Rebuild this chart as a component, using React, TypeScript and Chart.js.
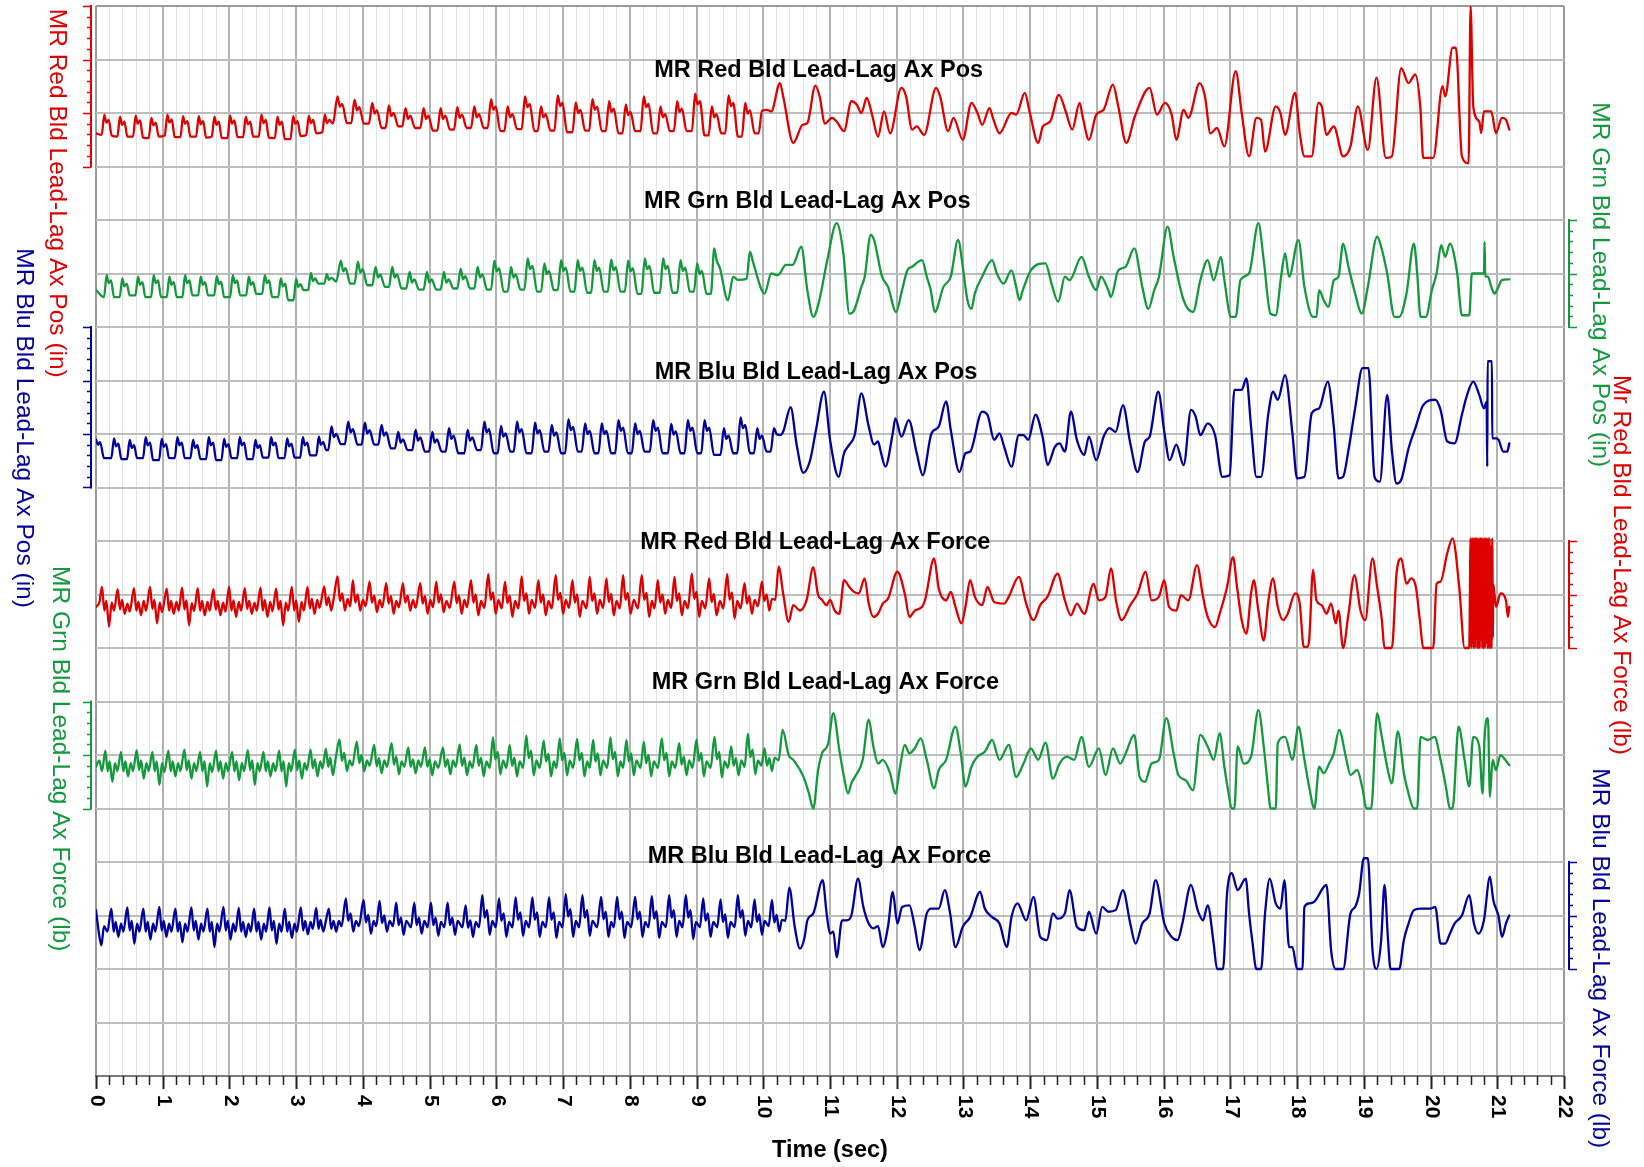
import React, { useEffect, useRef } from "react";
import { Chart, registerables } from "chart.js";
Chart.register(...registerables);

type Pt = [number, number];

const X_LABELS = ["0","1","2","3","4","5","6","7","8","9","10","11","12","13","14","15","16","17","18","19","20","21","22"];
const X_TITLE = "Time (sec)";
const SERIES_TITLES = ["MR Red Bld Lead-Lag Ax Pos","MR Grn Bld Lead-Lag Ax Pos","MR Blu Bld Lead-Lag Ax Pos","MR Red Bld Lead-Lag Ax Force","MR Grn Bld Lead-Lag Ax Force","MR Blu Bld Lead-Lag Ax Force"];
const AXIS_TITLES = ["MR Red Bld Lead-Lag Ax Pos (in)","MR Grn Bld Lead-Lag Ax Pos (in)","MR Blu Bld Lead-Lag Ax Pos (in)","Mr Red Bld Lead-Lag Ax Force (lb)","MR Grn Bld Lead-Lag Ax Force (lb)","MR Blu Bld Lead-Lag Ax Force (lb)"];

const RED_POS: Pt[] = [
[0,-.38],
[.085,-.41],[.125,-.03],[.155,-.18],[.19,-.13],[.235,-.42],
[.32,-.44],[.36,-.07],[.39,-.22],[.425,-.16],[.47,-.44],
[.555,-.44],[.595,-.05],[.625,-.2],[.66,-.14],[.705,-.46],
[.79,-.47],[.83,-.09],[.86,-.23],[.895,-.18],[.94,-.44],
[1.03,-.42],[1.07,-.03],[1.1,-.18],[1.135,-.12],[1.18,-.45],
[1.265,-.45],[1.305,-.06],[1.335,-.2],[1.37,-.15],[1.415,-.44],
[1.5,-.44],[1.54,-.06],[1.57,-.21],[1.605,-.15],[1.65,-.46],
[1.735,-.44],[1.775,-.07],[1.805,-.22],[1.84,-.16],[1.885,-.47],
[1.97,-.47],[2.01,-.05],[2.04,-.2],[2.075,-.14],[2.12,-.45],
[2.205,-.45],[2.245,-.07],[2.275,-.21],[2.31,-.16],[2.355,-.44],
[2.44,-.44],[2.48,-.03],[2.51,-.19],[2.545,-.13],[2.59,-.46],
[2.68,-.47],[2.72,-.07],[2.75,-.22],[2.785,-.16],[2.83,-.49],
[2.915,-.49],[2.955,-.06],[2.985,-.2],[3.02,-.15],[3.065,-.43],
[3.15,-.41],[3.19,-.05],[3.22,-.19],[3.255,-.13],[3.3,-.38],
[3.39,-.36],[3.43,-.03],[3.46,-.19],[3.5,-.13],[3.55,-.2],
[3.62,.31],[3.655,.12],[3.69,.17],[3.76,-.19],
[3.825,-.19],[3.875,.25],[3.91,.05],[3.945,.11],[4.015,-.2],
[4.09,-.2],[4.14,.19],[4.175,-.01],[4.21,.05],[4.28,-.28],
[4.34,-.28],[4.39,.14],[4.425,-.06],[4.46,0],[4.53,-.25],
[4.59,-.25],[4.64,.09],[4.675,-.11],[4.71,-.05],[4.78,-.28],
[4.86,-.28],[4.91,.09],[4.945,-.11],[4.98,-.05],[5.05,-.33],
[5.115,-.33],[5.165,.09],[5.2,-.11],[5.235,-.05],[5.305,-.31],
[5.365,-.31],[5.415,.11],[5.45,-.09],[5.485,-.03],[5.555,-.28],
[5.62,-.28],[5.67,.125],[5.705,-.08],[5.74,-.02],[5.81,-.28],
[5.87,-.28],[5.92,.26],[5.955,.06],[5.99,.12],[6.06,-.34],
[6.12,-.34],[6.17,.125],[6.205,-.08],[6.24,-.02],[6.31,-.3],
[6.38,-.3],[6.43,.31],[6.465,.11],[6.5,.17],[6.57,-.34],
[6.62,-.34],[6.67,.125],[6.705,-.08],[6.74,-.02],[6.81,-.33],
[6.87,-.33],[6.92,.33],[6.955,.13],[6.99,.19],[7.06,-.36],
[7.14,-.36],[7.19,.2],[7.225,0],[7.26,.06],[7.33,-.33],
[7.39,-.33],[7.44,.26],[7.475,.06],[7.51,.12],[7.58,-.34],
[7.64,-.34],[7.69,.22],[7.725,.02],[7.76,.08],[7.83,-.38],
[7.89,-.38],[7.94,.16],[7.975,-.04],[8.01,.02],[8.08,-.34],
[8.16,-.34],[8.21,.31],[8.245,.11],[8.28,.17],[8.35,-.38],
[8.41,-.38],[8.46,.125],[8.495,-.08],[8.53,-.02],[8.6,-.34],
[8.66,-.34],[8.71,.22],[8.745,.02],[8.78,.08],[8.85,-.34],
[8.93,-.34],[8.98,.36],[9.015,.16],[9.05,.22],[9.12,-.42],
[9.18,-.42],[9.23,.125],[9.265,-.08],[9.3,-.02],[9.37,-.38],
[9.43,-.38],[9.48,.33],[9.515,.13],[9.55,.19],[9.62,-.44],
[9.68,-.44],[9.73,.19],[9.765,-.01],[9.8,.05],[9.87,-.38],
[9.93,-.38],[9.98,.04],[10.05,.06],[10.12,.03],[10.25,.56],[10.3,.3],[10.45,-.56],[10.59,-.22],[10.66,-.19],[10.78,.51],[10.85,.28],[10.92,-.2],[11.03,-.09],[11.1,-.16],[11.21,-.34],
[11.32,.22],[11.4,.16],[11.47,0],[11.55,.28],[11.63,-.03],[11.72,-.44],[11.81,.03],[11.9,-.38],[12.07,.47],[12.14,.31],[12.23,-.31],[12.3,-.25],[12.41,-.41],[12.59,.47],[12.65,.31],[12.77,-.34],[12.85,-.09],[12.99,-.5],[13.12,.19],[13.21,0],[13.28,-.22],[13.39,.09],[13.45,-.125],[13.54,-.38],[13.72,0],[13.79,-.03],[13.92,.375],[13.99,.03],[14.12,-.56],[14.19,-.25],[14.3,-.16],[14.43,.34],[14.54,0],[14.63,-.31],[14.74,.19],[14.79,-.09],[14.88,-.5],[14.99,-.03],[15.1,.06],[15.24,.53],[15.32,.125],[15.44,-.56],[15.57,-.06],[15.79,.47],[15.9,-.03],[16.02,.19],[16.12,-.03],[16.19,-.5],[16.3,.06],[16.37,-.09],[16.54,.56],[16.62,.31],[16.7,-.38],[16.8,-.28],[16.91,-.625],[17.08,.78],[17.17,0],[17.28,-.81],[17.39,-.09],[17.46,-.125],[17.52,-.72],[17.68,.125],[17.75,0],[17.82,-.41],[17.97,.375],[18.04,-.375],[18.11,-.81],[18.22,-.81],[18.32,.19],[18.37,.125],[18.44,-.41],[18.55,-.25],[18.69,-.81],[18.8,-.625],[18.91,.125],[19.06,-.69],[19.19,.66],[19.33,-.84],[19.42,-.81],[19.56,.84],[19.67,.56],[19.77,.72],[19.85,.06],[19.89,-.84],[20.04,-.84],[20.18,.5],[20.22,.31],[20.33,1.22],[20.38,1.22],[20.47,-.81],[20.57,-.94],[20.6,2],[20.64,.125],[20.73,-.16],[20.76,-.375],[20.8,.03],[20.91,.03],[20.98,-.375],[21.07,-.09],[21.13,-.125],[21.18,-.31]
];

const GRN_POS: Pt[] = [
[0,-.31],
[.12,-.44],[.16,-.03],[.19,-.18],[.225,-.13],[.27,-.44],
[.355,-.44],[.395,-.09],[.425,-.24],[.46,-.19],[.505,-.41],
[.59,-.41],[.63,-.06],[.66,-.21],[.695,-.16],[.74,-.44],
[.825,-.44],[.865,-.03],[.895,-.18],[.93,-.13],[.975,-.44],
[1.06,-.44],[1.1,-.06],[1.13,-.21],[1.165,-.16],[1.21,-.44],
[1.295,-.44],[1.335,-.03],[1.365,-.18],[1.4,-.13],[1.445,-.41],
[1.53,-.41],[1.57,-.06],[1.6,-.21],[1.635,-.16],[1.68,-.41],
[1.77,-.41],[1.81,-.05],[1.84,-.2],[1.875,-.15],[1.92,-.44],
[2.01,-.44],[2.05,-.03],[2.08,-.18],[2.115,-.13],[2.16,-.41],
[2.25,-.41],[2.29,-.06],[2.32,-.21],[2.355,-.16],[2.4,-.38],
[2.49,-.38],[2.53,-.03],[2.56,-.18],[2.595,-.13],[2.64,-.44],
[2.73,-.44],[2.77,-.09],[2.8,-.24],[2.835,-.19],[2.88,-.5],
[2.96,-.5],[3.0,-.1],[3.03,-.25],[3.065,-.2],[3.11,-.31],
[3.18,-.31],[3.22,.01],[3.25,-.14],[3.285,-.09],[3.33,-.19],
[3.42,-.19],[3.46,-.01],[3.49,-.12],[3.53,-.08],[3.6,-.15],
[3.67,.24],[3.705,.04],[3.74,.1],[3.81,-.19],
[3.875,-.19],[3.925,.22],[3.96,.02],[3.995,.08],[4.065,-.22],
[4.14,-.22],[4.19,.125],[4.225,-.075],[4.26,-.015],[4.33,-.25],
[4.39,-.25],[4.44,.125],[4.475,-.075],[4.51,-.015],[4.58,-.28],
[4.65,-.28],[4.7,.03],[4.735,-.17],[4.77,-.11],[4.84,-.3],
[4.91,-.3],[4.96,.03],[4.995,-.17],[5.03,-.11],[5.1,-.3],
[5.165,-.3],[5.215,.03],[5.25,-.17],[5.285,-.11],[5.355,-.28],
[5.415,-.28],[5.465,.09],[5.5,-.11],[5.535,-.05],[5.605,-.28],
[5.67,-.28],[5.72,.125],[5.755,-.075],[5.79,-.015],[5.86,-.3],
[5.92,-.3],[5.97,.24],[6.005,.04],[6.04,.1],[6.11,-.34],
[6.17,-.34],[6.22,.125],[6.255,-.075],[6.29,-.015],[6.36,-.3],
[6.42,-.3],[6.47,.28],[6.505,.08],[6.54,.14],[6.61,-.34],
[6.67,-.34],[6.72,.19],[6.755,-.01],[6.79,.05],[6.86,-.31],
[6.92,-.31],[6.97,.25],[7.005,.05],[7.04,.11],[7.11,-.34],
[7.17,-.34],[7.22,.25],[7.255,.05],[7.29,.11],[7.36,-.36],
[7.42,-.36],[7.47,.25],[7.505,.05],[7.54,.11],[7.61,-.34],
[7.67,-.34],[7.72,.26],[7.755,.06],[7.79,.12],[7.86,-.34],
[7.925,-.34],[7.975,.24],[8.01,.04],[8.045,.1],[8.115,-.38],
[8.175,-.38],[8.225,.28],[8.26,.08],[8.295,.14],[8.365,-.36],
[8.45,-.36],[8.5,.28],[8.535,.08],[8.57,.14],[8.64,-.36],
[8.71,-.36],[8.76,.25],[8.795,.05],[8.83,.11],[8.9,-.34],
[8.96,-.34],[9.01,.19],[9.045,-.01],[9.08,.05],[9.15,-.38],
[9.215,-.38],[9.265,.47],[9.3,.25],[9.35,.1],[9.47,-.5],[9.55,-.06],[9.62,-.12],[9.75,-.1],[9.8,.41],[9.85,.2],[10.02,-.375],[10.12,0],[10.22,-.03],[10.34,.16],[10.44,.16],[10.57,.5],[10.66,-.31],[10.75,-.81],[10.84,-.5],[10.95,.19],[11.1,.94],
[11.2,.38],[11.29,-.75],[11.36,-.69],[11.47,-.25],[11.52,-.06],[11.61,.72],[11.66,.63],[11.78,-.06],[11.87,-.25],[11.99,-.72],[12.08,-.31],[12.16,.06],[12.23,.125],[12.38,.25],[12.45,-.06],[12.51,-.31],[12.57,-.72],[12.7,-.25],[12.81,-.06],[12.92,.63],[12.99,.125],[13.06,-.5],[13.12,-.66],[13.17,-.375],[13.28,-.06],[13.43,.25],[13.5,0],[13.6,-.19],[13.72,.06],[13.79,-.25],[13.84,-.5],[13.89,-.31],[14.01,.06],[14.23,.19],[14.32,-.19],[14.42,-.53],[14.52,-.06],[14.59,-.125],[14.77,.31],[14.88,-.06],[14.99,-.31],[15.06,-.06],[15.17,-.31],[15.21,-.44],[15.32,.06],[15.43,.125],[15.56,.47],[15.68,-.25],[15.77,-.66],[15.86,-.31],[15.93,-.06],[16.06,.875],[16.15,.31],[16.3,-.5],[16.44,-.72],[16.55,-.125],[16.66,.25],[16.75,-.125],[16.86,.31],[16.91,-.125],[17.01,-.81],[17.08,-.81],[17.15,-.125],[17.28,0],[17.42,.94],[17.5,.25],[17.6,-.75],[17.68,-.78],[17.76,-.06],[17.82,.375],[17.88,-.06],[18.02,.625],[18.11,-.25],[18.24,-.81],[18.29,-.81],[18.33,-.31],[18.4,-.5],[18.47,-.625],[18.55,-.125],[18.62,-.06],[18.69,.56],[18.77,.125],[18.87,-.375],[18.97,-.75],[19.06,-.25],[19.2,.69],[19.26,.5],[19.35,0],[19.46,-.81],[19.53,-.81],[19.64,-.375],[19.75,.56],[19.8,0],[19.85,-.81],[19.93,-.81],[20.02,-.31],[20.09,0],[20.16,.53],[20.22,.31],[20.29,.56],[20.4,0],[20.47,-.78],[20.58,-.78],[20.62,0],[20.8,0],[20.81,.59],[20.82,-.06],[20.86,-.06],[20.91,-.25],[20.96,-.375],[21.0,-.3],[21.07,-.125],[21.18,-.11]
];

const BLU_POS: Pt[] = [
[0,-.1],[.03,-.2],[.06,-.15],[.12,-.45],
[.23,-.45],[.27,-.08],[.3,-.23],[.335,-.18],[.38,-.47],
[.465,-.47],[.505,-.11],[.535,-.26],[.57,-.21],[.615,-.45],
[.705,-.45],[.745,-.06],[.775,-.21],[.81,-.16],[.855,-.49],
[.945,-.49],[.985,-.09],[1.015,-.24],[1.05,-.19],[1.095,-.45],
[1.18,-.45],[1.22,-.06],[1.25,-.21],[1.285,-.16],[1.33,-.45],
[1.415,-.45],[1.455,-.11],[1.485,-.26],[1.52,-.21],[1.565,-.47],
[1.65,-.47],[1.69,-.06],[1.72,-.21],[1.755,-.16],[1.8,-.49],
[1.88,-.49],[1.92,-.09],[1.95,-.24],[1.985,-.19],[2.03,-.45],
[2.115,-.45],[2.155,-.06],[2.185,-.21],[2.22,-.16],[2.265,-.47],
[2.35,-.47],[2.39,-.11],[2.42,-.26],[2.455,-.21],[2.5,-.44],
[2.585,-.44],[2.625,-.06],[2.655,-.21],[2.69,-.16],[2.735,-.45],
[2.825,-.45],[2.865,-.08],[2.895,-.23],[2.93,-.18],[2.975,-.44],
[3.06,-.44],[3.1,-.06],[3.13,-.21],[3.165,-.16],[3.21,-.4],
[3.3,-.4],[3.34,-.05],[3.37,-.2],[3.405,-.15],[3.45,-.3],
[3.48,-.3],[3.53,.14],[3.565,-.06],[3.6,0],[3.67,-.19],
[3.73,-.19],[3.78,.23],[3.815,.03],[3.85,.09],[3.92,-.2],
[3.98,-.2],[4.03,.21],[4.065,.01],[4.1,.07],[4.17,-.2],
[4.23,-.2],[4.28,.17],[4.315,-.03],[4.35,.03],[4.42,-.27],
[4.48,-.27],[4.53,.04],[4.565,-.16],[4.6,-.1],[4.67,-.3],
[4.74,-.3],[4.79,.075],[4.825,-.125],[4.86,-.065],[4.93,-.33],
[4.99,-.33],[5.04,.04],[5.075,-.16],[5.11,-.1],[5.18,-.33],
[5.24,-.33],[5.29,.11],[5.325,-.09],[5.36,-.03],[5.43,-.36],
[5.52,-.36],[5.57,.075],[5.605,-.125],[5.64,-.065],[5.71,-.3],
[5.77,-.3],[5.82,.23],[5.855,.03],[5.89,.09],[5.96,-.36],
[6.02,-.36],[6.07,.15],[6.105,-.05],[6.14,.01],[6.21,-.33],
[6.26,-.33],[6.31,.23],[6.345,.03],[6.38,.09],[6.45,-.36],
[6.53,-.36],[6.58,.21],[6.615,.01],[6.65,.07],[6.72,-.33],
[6.78,-.33],[6.83,.17],[6.865,-.03],[6.9,.03],[6.97,-.36],
[7.03,-.36],[7.08,.275],[7.115,.075],[7.15,.135],[7.22,-.33],
[7.28,-.33],[7.33,.2],[7.365,0],[7.4,.06],[7.47,-.36],
[7.53,-.36],[7.58,.2],[7.615,0],[7.65,.06],[7.72,-.36],
[7.78,-.36],[7.83,.26],[7.865,.06],[7.9,.12],[7.97,-.36],
[8.03,-.36],[8.08,.2],[8.115,0],[8.15,.06],[8.22,-.33],
[8.3,-.33],[8.35,.26],[8.385,.06],[8.42,.12],[8.49,-.36],
[8.57,-.36],[8.62,.19],[8.655,-.01],[8.69,.05],[8.76,-.36],
[8.82,-.36],[8.87,.26],[8.905,.06],[8.94,.12],[9.01,-.36],
[9.07,-.36],[9.12,.26],[9.155,.06],[9.19,.12],[9.26,-.39],
[9.36,-.39],[9.41,.11],[9.445,-.09],[9.48,-.03],[9.55,-.36],
[9.61,-.36],[9.66,.31],[9.695,.11],[9.73,.17],[9.8,-.36],
[9.86,-.36],[9.91,.11],[9.945,-.09],[9.98,-.03],[10.05,-.33],
[10.11,-.33],[10.16,.11],[10.2,0],[10.26,-.02],[10.3,.05],
[10.41,.5],[10.5,-.2],[10.6,-.725],[10.7,-.5],[10.79,.075],[10.91,.79],[11.0,-.1],[11.13,-.8],
[11.21,-.36],[11.29,-.2],[11.37,-.02],[11.47,.76],[11.58,.14],[11.66,-.2],[11.72,-.14],[11.76,-.33],[11.83,-.61],[11.94,.01],[11.98,.29],[12.07,-.05],[12.18,.26],[12.3,-.36],[12.39,-.77],[12.52,.01],[12.63,.14],[12.74,.61],[12.81,.075],[12.94,-.71],[13.03,-.36],[13.1,-.33],[13.28,.42],[13.36,.36],[13.46,-.11],[13.54,.01],[13.61,-.24],[13.72,-.61],[13.83,-.02],[13.9,-.02],[13.97,-.11],[14.08,.36],[14.19,-.08],[14.26,-.58],[14.37,-.24],[14.44,-.175],[14.52,-.33],[14.61,.42],[14.7,-.11],[14.81,-.39],[14.88,-.05],[14.99,-.49],[15.1,-.05],[15.19,.11],[15.28,.04],[15.39,.54],[15.5,-.175],[15.61,-.71],[15.72,-.14],[15.79,-.05],[15.92,.79],[16.01,.04],[16.09,-.49],[16.19,-.2],[16.3,-.58],[16.41,.45],[16.48,.325],[16.55,-.02],[16.66,.2],[16.77,-.02],[16.88,-.8],[16.99,-.77],[17.06,.825],[17.17,.825],[17.24,1.04],[17.31,.14],[17.39,-.8],[17.46,-.8],[17.57,.39],[17.64,.79],[17.71,.64],[17.82,1.1],[17.93,.01],[18.0,-.83],[18.11,-.8],[18.22,.39],[18.33,.48],[18.46,.98],[18.55,.14],[18.62,-.83],[18.69,-.8],[18.77,-.3],[18.87,.48],[18.98,1.23],[19.07,1.23],[19.16,-.8],[19.24,-.89],[19.35,.73],[19.42,-.3],[19.49,-.925],[19.56,-.86],[19.67,-.27],[19.78,.14],[19.89,.54],[20.07,.64],[20.15,.45],[20.25,-.14],[20.36,-.175],[20.47,.36],[20.54,.7],[20.64,.98],[20.73,.73],[20.8,.48],[20.84,.6],[20.85,-.61],[20.855,1.36],[20.92,1.36],[20.925,-.08],[20.98,-.08],[21.02,-.11],[21.09,-.33],[21.15,-.33],[21.18,-.175]
];

const RED_FRC: Pt[] = [
[0,-.23],[.05,-.15],
[.09,.14],[.125,-.3],[.155,-.12],[.195,-.6],[.235,-.15],[.27,-.3],
[.325,.1],[.36,-.28],[.39,-.1],[.43,-.36],[.47,-.17],[.505,-.32],
[.57,.12],[.605,-.3],[.635,-.14],[.675,-.39],[.715,-.12],[.75,-.3],
[.81,.14],[.845,-.27],[.875,-.1],[.915,-.54],[.955,-.15],[.99,-.33],
[1.06,.11],[1.095,-.3],[1.125,-.12],[1.165,-.36],[1.205,-.14],[1.24,-.3],
[1.29,.13],[1.325,-.28],[1.355,-.11],[1.395,-.575],[1.435,-.16],[1.47,-.31],
[1.525,.12],[1.56,-.3],[1.59,-.12],[1.63,-.39],[1.67,-.14],[1.705,-.3],
[1.76,.1],[1.795,-.28],[1.825,-.12],[1.865,-.39],[1.905,-.15],[1.94,-.32],
[1.995,.14],[2.03,-.3],[2.06,-.11],[2.1,-.42],[2.14,-.14],[2.175,-.3],
[2.23,.12],[2.265,-.27],[2.295,-.12],[2.335,-.36],[2.375,-.15],[2.41,-.3],
[2.465,.13],[2.5,-.3],[2.53,-.1],[2.57,-.42],[2.61,-.14],[2.645,-.31],
[2.7,.11],[2.735,-.28],[2.765,-.12],[2.805,-.575],[2.845,-.15],[2.88,-.3],
[2.935,.14],[2.97,-.3],[3.0,-.11],[3.04,-.51],[3.08,-.14],[3.115,-.3],
[3.17,.14],[3.205,-.26],[3.235,-.08],[3.275,-.36],[3.315,-.1],[3.35,-.25],
[3.42,.15],[3.455,-.2],[3.485,-.05],[3.525,-.3],[3.565,-.05],
[3.62,.34],[3.655,-.12],[3.69,.02],[3.73,-.3],[3.77,-.08],[3.81,-.22],
[3.85,.27],[3.885,-.15],[3.92,0],[3.96,-.3],[4.0,-.1],[4.04,-.22],
[4.1,.24],[4.135,-.15],[4.17,-.02],[4.21,-.33],[4.25,-.1],[4.29,-.24],
[4.35,.21],[4.385,-.17],[4.42,-.03],[4.46,-.36],[4.5,-.12],[4.54,-.24],
[4.6,.21],[4.635,-.15],[4.67,-.02],[4.71,-.3],[4.75,-.1],[4.79,-.25],
[4.86,.21],[4.895,-.17],[4.93,-.03],[4.97,-.36],[5.01,-.1],[5.05,-.24],
[5.1,.24],[5.135,-.15],[5.17,0],[5.21,-.33],[5.25,-.12],[5.3,-.25],
[5.37,.24],[5.405,-.16],[5.44,-.02],[5.48,-.36],[5.52,-.1],[5.56,-.24],
[5.62,.27],[5.655,-.15],[5.69,0],[5.73,-.39],[5.77,-.12],[5.82,-.25],
[5.88,.38],[5.915,-.1],[5.95,.04],[5.99,-.36],[6.03,-.1],[6.08,-.26],
[6.13,.24],[6.165,-.16],[6.2,-.02],[6.24,-.42],[6.28,-.12],[6.33,-.26],
[6.38,.34],[6.415,-.12],[6.45,.02],[6.49,-.36],[6.53,-.1],[6.58,-.25],
[6.63,.27],[6.665,-.15],[6.7,0],[6.74,-.39],[6.78,-.12],[6.83,-.26],
[6.89,.36],[6.925,-.1],[6.96,.03],[7.0,-.36],[7.04,-.1],[7.09,-.25],
[7.14,.27],[7.175,-.15],[7.21,0],[7.25,-.42],[7.29,-.12],[7.35,-.26],
[7.4,.33],[7.435,-.12],[7.47,.02],[7.51,-.36],[7.55,-.1],[7.6,-.25],
[7.65,.3],[7.685,-.14],[7.72,.01],[7.76,-.39],[7.8,-.12],[7.85,-.26],
[7.9,.36],[7.935,-.1],[7.97,.03],[8.01,-.36],[8.06,-.1],[8.12,-.26],
[8.18,.36],[8.215,-.1],[8.25,.03],[8.29,-.42],[8.33,-.12],[8.37,-.26],
[8.42,.27],[8.455,-.15],[8.49,0],[8.53,-.36],[8.57,-.1],[8.62,-.25],
[8.67,.33],[8.705,-.12],[8.74,.02],[8.78,-.39],[8.82,-.12],[8.87,-.26],
[8.93,.39],[8.965,-.08],[9.0,.05],[9.04,-.42],[9.08,-.12],[9.13,-.26],
[9.19,.3],[9.225,-.14],[9.26,.01],[9.3,-.39],[9.35,-.12],[9.4,-.26],
[9.46,.38],[9.495,-.1],[9.53,.04],[9.57,-.45],[9.61,-.12],[9.66,-.26],
[9.72,.21],[9.755,-.17],[9.79,-.03],[9.83,-.36],[9.87,-.1],[9.92,-.22],
[9.98,.24],[10.015,-.12],[10.05,0],[10.09,-.3],[10.13,-.08],[10.18,-.1],
[10.23,.52],[10.3,0],[10.38,-.51],[10.45,-.2],[10.55,-.3],[10.65,-.1],[10.75,.51],[10.82,0],[10.88,-.1],[10.95,-.2],[11.0,-.1],[11.07,-.3],[11.14,-.36],
[11.21,.27],[11.29,.14],[11.36,.05],[11.43,.02],[11.52,.3],[11.58,-.17],[11.65,-.42],[11.72,-.36],[11.79,-.17],[11.87,-.075],[12.01,.425],[12.12,.02],[12.19,-.42],[12.27,-.3],[12.38,-.23],[12.43,-.075],[12.56,.675],[12.63,.11],[12.74,-.11],[12.81,.05],[12.88,-.23],[12.97,-.54],[13.03,-.23],[13.1,.27],[13.17,-.04],[13.28,-.2],[13.36,.14],[13.46,-.14],[13.61,-.17],[13.68,-.04],[13.83,.33],[13.94,-.17],[14.05,-.48],[14.15,-.2],[14.26,-.04],[14.41,.39],[14.52,-.11],[14.61,-.39],[14.7,-.17],[14.81,-.36],[14.95,.2],[15.03,-.11],[15.13,-.04],[15.21,.49],[15.29,-.14],[15.37,-.48],[15.5,-.2],[15.61,.02],[15.73,.425],[15.82,-.11],[15.93,-.04],[16.01,.27],[16.08,-.23],[16.19,-.3],[16.26,-.01],[16.37,-.11],[16.5,.55],[16.59,-.04],[16.66,-.42],[16.77,-.61],[16.84,-.36],[16.95,.14],[17.04,.7],[17.1,.14],[17.17,-.48],[17.24,-.73],[17.31,.02],[17.35,.27],[17.42,-.3],[17.5,-.86],[17.57,-.11],[17.64,.3],[17.71,-.23],[17.79,-.48],[17.86,-.36],[17.97,.02],[18.04,-.17],[18.1,-.98],[18.15,-.98],[18.18,-.86],[18.24,.46],[18.29,-.11],[18.37,-.2],[18.44,-.36],[18.51,-.17],[18.58,-.54],[18.62,-.3],[18.69,-1],[18.77,-.36],[18.86,.36],[18.95,-.3],[19.02,-.48],[19.13,.675],[19.2,.14],[19.27,-.48],[19.31,-1],[19.42,-1],[19.49,.39],[19.56,.675],[19.64,.2],[19.71,.3],[19.78,.14],[19.84,-.48],[19.89,-1],[20.04,-1],[20.09,.2],[20.15,.24],[20.25,.77],[20.33,1.05],[20.43,.14],[20.51,-1],[20.58,-1],
[20.6,1.05],[20.61,-1],[20.62,1.05],[20.628,-.9],[20.637,1.05],[20.645,-1],[20.655,1.05],[20.665,-1],[20.672,1.05],[20.68,-.8],[20.69,1.05],[20.7,-1],[20.71,1.05],[20.72,-1],[20.728,1.05],[20.738,-1],[20.748,1.05],[20.756,-.85],[20.765,1.05],[20.775,-1],[20.785,1.05],[20.795,-1],[20.805,1.05],[20.815,-1],[20.825,1.05],[20.835,-.9],[20.845,1.05],[20.855,-1],[20.865,1.05],[20.875,-1],[20.885,1.05],[20.895,-1],[20.905,.9],[20.915,-1],[20.925,1.05],[20.935,-.8],[20.94,.2],
[20.98,-.23],[21.05,.02],[21.13,-.11],[21.16,-.42],[21.18,-.23]
];

const GRN_FRC: Pt[] = [
[0,-.22],[.05,-.1],[.09,-.3],
[.14,.08],[.175,-.3],[.205,-.12],[.245,-.5],[.285,-.15],[.32,-.3],
[.375,.06],[.41,-.3],[.44,-.12],[.48,-.4],[.52,-.15],[.555,-.3],
[.61,.09],[.645,-.28],[.675,-.1],[.715,-.44],[.755,-.15],[.79,-.3],
[.845,.06],[.88,-.3],[.91,-.12],[.95,-.56],[.99,-.15],[1.025,-.32],
[1.085,.08],[1.12,-.3],[1.15,-.12],[1.19,-.4],[1.23,-.15],[1.265,-.3],
[1.325,.1],[1.36,-.28],[1.39,-.1],[1.43,-.44],[1.47,-.15],[1.505,-.3],
[1.56,.06],[1.595,-.3],[1.625,-.12],[1.665,-.59],[1.705,-.15],[1.74,-.32],
[1.8,.08],[1.835,-.3],[1.865,-.12],[1.905,-.44],[1.945,-.15],[1.98,-.3],
[2.04,.06],[2.075,-.3],[2.105,-.12],[2.145,-.47],[2.185,-.15],[2.22,-.3],
[2.275,.09],[2.31,-.28],[2.34,-.1],[2.38,-.56],[2.42,-.15],[2.455,-.3],
[2.51,.06],[2.545,-.3],[2.575,-.12],[2.615,-.4],[2.655,-.15],[2.69,-.3],
[2.745,.08],[2.78,-.3],[2.81,-.12],[2.85,-.59],[2.89,-.15],[2.925,-.3],
[2.98,.1],[3.015,-.28],[3.045,-.1],[3.085,-.44],[3.125,-.15],[3.16,-.28],
[3.215,.1],[3.25,-.25],[3.28,-.08],[3.32,-.4],[3.36,-.12],[3.395,-.25],
[3.445,.12],[3.48,-.22],[3.51,-.05],[3.55,-.375],[3.59,-.08],
[3.65,.29],[3.685,-.11],[3.72,.04],[3.76,-.3],[3.8,-.1],[3.84,-.2],
[3.91,.25],[3.945,-.15],[3.98,0],[4.02,-.3],[4.06,-.1],[4.1,-.2],
[4.17,.19],[4.205,-.21],[4.24,-.06],[4.28,-.34],[4.32,-.1],[4.36,-.22],
[4.43,.22],[4.465,-.18],[4.5,-.03],[4.54,-.36],[4.58,-.12],[4.62,-.22],
[4.68,.14],[4.715,-.22],[4.75,-.08],[4.79,-.34],[4.83,-.1],[4.87,-.22],
[4.93,.14],[4.965,-.22],[5.0,-.08],[5.04,-.38],[5.08,-.12],[5.13,-.24],
[5.2,.14],[5.235,-.22],[5.27,-.08],[5.31,-.36],[5.35,-.1],[5.39,-.22],
[5.45,.2],[5.485,-.2],[5.52,-.05],[5.56,-.38],[5.6,-.12],[5.64,-.24],
[5.7,.19],[5.735,-.2],[5.77,-.05],[5.81,-.4],[5.85,-.12],[5.9,-.24],
[5.95,.33],[5.985,-.08],[6.02,.06],[6.06,-.36],[6.1,-.1],[6.15,-.24],
[6.2,.19],[6.235,-.2],[6.27,-.05],[6.31,-.4],[6.35,-.12],[6.4,-.24],
[6.45,.36],[6.485,-.06],[6.52,.08],[6.56,-.38],[6.6,-.1],[6.65,-.24],
[6.71,.27],[6.745,-.12],[6.78,.02],[6.82,-.4],[6.86,-.12],[6.9,-.24],
[6.95,.31],[6.985,-.1],[7.02,.04],[7.06,-.38],[7.1,-.1],[7.15,-.24],
[7.21,.3],[7.245,-.1],[7.28,.04],[7.32,-.4],[7.36,-.12],[7.4,-.24],
[7.45,.28],[7.485,-.12],[7.52,.03],[7.56,-.38],[7.6,-.1],[7.66,-.24],
[7.71,.33],[7.745,-.08],[7.78,.06],[7.82,-.4],[7.86,-.12],[7.9,-.24],
[7.95,.28],[7.985,-.12],[8.02,.03],[8.06,-.38],[8.1,-.1],[8.16,-.24],
[8.21,.25],[8.245,-.15],[8.28,0],[8.32,-.4],[8.36,-.12],[8.42,-.24],
[8.48,.31],[8.515,-.1],[8.55,.04],[8.59,-.4],[8.63,-.12],[8.68,-.24],
[8.74,.22],[8.775,-.18],[8.81,-.03],[8.85,-.38],[8.89,-.1],[8.94,-.24],
[9.0,.29],[9.035,-.11],[9.07,.04],[9.11,-.4],[9.15,-.12],[9.21,-.24],
[9.27,.34],[9.305,-.08],[9.34,.06],[9.38,-.42],[9.42,-.12],[9.47,-.24],
[9.52,.16],[9.555,-.2],[9.59,-.06],[9.63,-.38],[9.67,-.1],[9.72,-.22],
[9.77,.4],[9.805,-.04],[9.84,.1],[9.88,-.36],[9.92,-.1],[9.97,-.2],
[10.02,.125],[10.055,-.2],[10.09,-.06],[10.13,-.3],[10.17,-.05],[10.23,-.1],
[10.29,.47],[10.38,0],[10.45,-.09],[10.6,-.4],[10.68,-.7],[10.75,-1],[10.82,-.3],[10.88,.03],[10.97,.2],[11.05,.78],
[11.14,.09],[11.21,-.41],[11.27,-.72],[11.32,-.53],[11.39,-.375],[11.49,-.09],[11.58,.66],[11.65,.16],[11.72,-.16],[11.79,-.09],[11.9,-.34],[11.98,-.72],[12.05,-.22],[12.12,.19],[12.19,.03],[12.27,.125],[12.36,.31],[12.45,-.09],[12.56,-.625],[12.63,-.28],[12.74,-.09],[12.88,.53],[12.96,.03],[13.03,-.59],[13.12,-.22],[13.21,-.03],[13.32,.06],[13.43,.28],[13.54,-.09],[13.68,.19],[13.79,-.41],[13.9,-.16],[14.01,.125],[14.12,-.09],[14.23,.23],[14.34,-.44],[14.44,-.16],[14.55,-.03],[14.66,-.09],[14.77,.34],[14.88,-.22],[15.03,.125],[15.13,-.375],[15.24,.125],[15.35,-.16],[15.43,.03],[15.56,.375],[15.64,-.41],[15.72,-.5],[15.82,-.16],[15.93,-.09],[16.04,.69],[16.15,.03],[16.22,-.375],[16.33,-.47],[16.44,-.66],[16.55,.375],[16.66,.16],[16.75,-.09],[16.84,.41],[16.91,-.22],[16.97,-.69],[17.02,-1],[17.06,-1],[17.11,.16],[17.2,-.16],[17.31,-.03],[17.42,.84],[17.5,.16],[17.57,-.69],[17.6,-1],[17.68,-1],[17.71,.22],[17.82,.34],[17.93,-.09],[18.02,.53],[18.11,-.09],[18.18,-.59],[18.26,-1],[18.33,-.22],[18.4,-.34],[18.48,-.16],[18.55,.03],[18.63,.47],[18.73,-.03],[18.8,-.375],[18.9,-.28],[18.98,-.625],[19.04,-1],[19.11,-1],[19.2,.78],[19.27,.34],[19.35,-.22],[19.42,-.53],[19.51,.44],[19.6,-.34],[19.67,-.72],[19.75,-1],[19.8,-1],[19.85,.34],[19.96,.28],[20.06,.34],[20.15,-.09],[20.23,-.59],[20.29,-1],[20.33,-1],[20.42,.53],[20.51,-.09],[20.58,-.59],[20.64,.34],[20.73,.16],[20.78,-.72],[20.81,.34],[20.86,.69],[20.89,-.78],[20.93,-.09],[20.98,-.28],[21.05,0],[21.1,-.06],[21.18,-.19]
];

const BLU_FRC: Pt[] = [
[0,.1],[.04,-.3],[.08,-.56],[.12,-.2],[.17,-.3],
[.23,.13],[.265,-.3],[.295,-.12],[.335,-.4],[.375,-.15],[.41,-.3],
[.47,.15],[.505,-.28],[.535,-.1],[.575,-.53],[.615,-.15],[.65,-.3],
[.71,.13],[.745,-.3],[.775,-.12],[.815,-.45],[.855,-.15],[.89,-.3],
[.95,.16],[.985,-.28],[1.015,-.1],[1.055,-.4],[1.095,-.15],[1.13,-.3],
[1.19,.13],[1.225,-.3],[1.255,-.12],[1.295,-.5],[1.335,-.15],[1.37,-.3],
[1.43,.15],[1.465,-.28],[1.495,-.1],[1.535,-.45],[1.575,-.15],[1.61,-.3],
[1.67,.13],[1.705,-.3],[1.735,-.12],[1.775,-.59],[1.815,-.15],[1.85,-.3],
[1.91,.16],[1.945,-.28],[1.975,-.1],[2.015,-.45],[2.055,-.15],[2.09,-.3],
[2.14,.14],[2.175,-.3],[2.205,-.12],[2.245,-.4],[2.285,-.15],[2.32,-.3],
[2.37,.13],[2.405,-.3],[2.435,-.12],[2.475,-.45],[2.515,-.15],[2.55,-.3],
[2.6,.15],[2.635,-.28],[2.665,-.1],[2.705,-.53],[2.745,-.15],[2.78,-.3],
[2.83,.13],[2.865,-.3],[2.895,-.12],[2.935,-.42],[2.975,-.15],[3.01,-.3],
[3.07,.15],[3.105,-.28],[3.135,-.1],[3.175,-.35],[3.215,-.12],[3.25,-.25],
[3.3,.14],[3.335,-.25],[3.365,-.08],[3.405,-.3],[3.445,-.1],
[3.49,.13],[3.525,-.25],[3.56,-.1],[3.6,-.3],[3.64,-.1],[3.68,-.2],
[3.745,.32],[3.78,-.1],[3.815,.04],[3.855,-.3],[3.895,-.1],[3.94,-.2],
[4.01,.29],[4.045,-.13],[4.08,.01],[4.12,-.34],[4.16,-.1],[4.2,-.2],
[4.25,.275],[4.285,-.14],[4.32,0],[4.36,-.3],[4.4,-.1],[4.45,-.2],
[4.5,.24],[4.535,-.18],[4.57,-.04],[4.61,-.36],[4.65,-.1],[4.72,-.22],
[4.77,.24],[4.805,-.18],[4.84,-.04],[4.88,-.34],[4.92,-.1],[4.97,-.22],
[5.02,.24],[5.055,-.18],[5.09,-.04],[5.13,-.38],[5.17,-.12],[5.22,-.22],
[5.27,.24],[5.305,-.18],[5.34,-.04],[5.38,-.36],[5.42,-.1],[5.49,-.22],
[5.54,.19],[5.575,-.23],[5.61,-.09],[5.65,-.4],[5.69,-.12],[5.74,-.22],
[5.79,.38],[5.825,-.04],[5.86,.1],[5.9,-.36],[5.94,-.1],[5.99,-.22],
[6.04,.32],[6.075,-.1],[6.11,.04],[6.15,-.4],[6.19,-.12],[6.24,-.22],
[6.29,.34],[6.325,-.08],[6.36,.06],[6.4,-.38],[6.44,-.1],[6.49,-.22],
[6.54,.34],[6.575,-.08],[6.61,.06],[6.65,-.4],[6.69,-.12],[6.74,-.22],
[6.79,.34],[6.825,-.08],[6.86,.06],[6.9,-.42],[6.94,-.12],[6.99,-.22],
[7.04,.4],[7.075,-.02],[7.11,.12],[7.15,-.4],[7.19,-.1],[7.24,-.22],
[7.29,.38],[7.325,-.04],[7.36,.1],[7.4,-.38],[7.44,-.1],[7.51,-.22],
[7.57,.35],[7.605,-.07],[7.64,.07],[7.68,-.4],[7.72,-.12],[7.76,-.22],
[7.81,.35],[7.845,-.07],[7.88,.07],[7.92,-.42],[7.96,-.12],[8.02,-.22],
[8.08,.35],[8.115,-.07],[8.15,.07],[8.19,-.4],[8.23,-.12],[8.28,-.22],
[8.33,.36],[8.365,-.06],[8.4,.08],[8.44,-.42],[8.48,-.12],[8.54,-.22],
[8.59,.38],[8.625,-.04],[8.66,.1],[8.7,-.4],[8.74,-.1],[8.79,-.22],
[8.84,.38],[8.875,-.04],[8.91,.1],[8.95,-.44],[8.99,-.12],[9.05,-.22],
[9.1,.32],[9.135,-.1],[9.17,.04],[9.21,-.4],[9.25,-.12],[9.31,-.22],
[9.36,.3],[9.395,-.12],[9.43,.02],[9.47,-.42],[9.51,-.12],[9.57,-.22],
[9.62,.38],[9.655,-.04],[9.69,.1],[9.73,-.38],[9.77,-.1],[9.82,-.22],
[9.87,.3],[9.905,-.12],[9.94,.02],[9.98,-.36],[10.02,-.1],[10.08,-.2],
[10.13,.29],[10.165,-.13],[10.2,.01],[10.24,-.3],[10.28,-.08],[10.33,-.1],
[10.39,.52],[10.47,-.2],[10.55,-.62],[10.62,-.4],[10.66,-.09],[10.75,.04],[10.89,.66],
[10.95,.03],[11.0,-.34],[11.05,-.3],[11.1,-.78],[11.18,-.09],[11.25,-.09],[11.32,0],[11.42,.69],[11.5,.16],[11.58,-.15],[11.65,-.24],[11.72,-.2],[11.79,-.59],[11.87,-.2],[11.94,.44],[12.01,-.15],[12.08,.16],[12.19,.19],[12.27,-.21],[12.34,-.65],[12.45,.04],[12.52,.13],[12.63,.13],[12.72,.475],[12.8,.04],[12.88,-.59],[12.99,-.21],[13.1,-.03],[13.25,.44],[13.32,.13],[13.43,-.03],[13.54,-.15],[13.65,-.59],[13.72,-.03],[13.81,.225],[13.94,-.09],[14.05,.35],[14.15,-.4],[14.25,-.46],[14.34,.04],[14.41,-.06],[14.52,.04],[14.59,.475],[14.7,-.21],[14.81,-.275],[14.88,.07],[14.99,-.34],[15.08,.16],[15.17,.07],[15.28,.1],[15.39,.475],[15.5,-.15],[15.58,-.525],[15.68,-.15],[15.79,.04],[15.88,.66],[16.01,-.15],[16.12,-.4],[16.21,-.46],[16.28,-.15],[16.41,.57],[16.51,.1],[16.59,-.09],[16.66,.19],[16.75,-.525],[16.8,-1],[16.89,-1],[16.95,.41],[17.02,.79],[17.11,.475],[17.23,.69],[17.28,.04],[17.33,-.49],[17.39,-1],[17.46,-1],[17.52,.04],[17.59,.69],[17.68,.225],[17.75,.13],[17.81,.66],[17.88,-.59],[17.93,-.59],[18.0,-1],[18.08,-1],[18.11,.16],[18.18,.225],[18.26,.26],[18.44,.57],[18.51,-.65],[18.58,-1],[18.69,-1],[18.8,.04],[18.87,.16],[18.93,.41],[19.0,1.07],[19.06,1.07],[19.13,-.65],[19.19,-1],[19.26,-.46],[19.31,.57],[19.36,-.4],[19.4,-1],[19.53,-1],[19.6,-.46],[19.67,-.15],[19.75,.1],[19.85,.13],[20.0,.13],[20.07,.16],[20.15,-.525],[20.22,-.525],[20.29,-.34],[20.36,-.15],[20.47,0],[20.58,.38],[20.65,-.15],[20.72,-.34],[20.8,-.09],[20.89,.725],[20.94,.29],[21.02,-.02],[21.07,-.4],[21.13,-.15],[21.18,0]
];

const RED = "#dd0000";
const GREEN = "#13993c";
const BLUE = "#00009a";
const FONT = '"Liberation Sans", Arial, Helvetica, sans-serif';

// layout / style config (rows of the 20-row grid)
const SERIES = [
  { id: "yRedPos", data: RED_POS, color: RED, center: 2, from: 0, to: 3, side: -1, tT: 10.83, tK: 1.2, aOff: 39, aK: 3.5 },
  { id: "yGrnPos", data: GRN_POS, color: GREEN, center: 5, from: 4, to: 6, side: 1, tT: 10.66, tK: 3.66, aOff: 36, aK: 5.21 },
  { id: "yBluPos", data: BLU_POS, color: BLUE, center: 8, from: 6, to: 9, side: -1, tT: 10.79, tK: 6.86, aOff: 72, aK: 7.89 },
  { id: "yRedFrc", data: RED_FRC, color: RED, center: 11, from: 10, to: 12, side: 1, tT: 10.78, tK: 10.02, aOff: 57, aK: 10.45 },
  { id: "yGrnFrc", data: GRN_FRC, color: GREEN, center: 14, from: 13, to: 15, side: -1, tT: 10.93, tK: 12.65, aOff: 36, aK: 14.07 },
  { id: "yBluFrc", data: BLU_FRC, color: BLUE, center: 17, from: 16, to: 18, side: 1, tT: 10.84, tK: 15.9, aOff: 36, aK: 17.8 },
];

const isWhole = (v: number) => Math.abs(v - Math.round(v)) < 1e-6;

const overlay = {
  id: "overlay",
  afterDraw(chart: any) {
    const ctx = chart.ctx;
    const xs = chart.scales.x;
    const yg = chart.scales.yGrid;
    const area = chart.chartArea;
    ctx.save();
    SERIES.forEach((s) => {
      const sc = chart.scales[s.id];
      const vTop = s.center - s.from;
      const vBot = s.center - s.to;
      const ax = s.side < 0 ? area.left - 5 : area.right + 5;
      ctx.strokeStyle = s.color;
      ctx.lineWidth = 2;
      ctx.beginPath();
      ctx.moveTo(ax, sc.getPixelForValue(vTop) - 1);
      ctx.lineTo(ax, sc.getPixelForValue(vBot) + 1);
      ctx.stroke();
      const n = Math.round((vTop - vBot) * 5);
      ctx.lineWidth = 1.5;
      for (let i = 0; i <= n; i++) {
        const y = Math.round(sc.getPixelForValue(vTop - i * 0.2)) + 0.5;
        const len = i % 5 === 0 ? 8 : 4;
        ctx.beginPath();
        ctx.moveTo(ax, y);
        ctx.lineTo(ax + s.side * len, y);
        ctx.stroke();
      }
    });
    ctx.font = "24.5px " + FONT;
    ctx.textAlign = "center";
    ctx.textBaseline = "middle";
    SERIES.forEach((s, i) => {
      const x = s.side < 0 ? area.left - s.aOff : area.right + s.aOff;
      const y = yg.getPixelForValue(s.aK);
      ctx.save();
      ctx.translate(x, y);
      ctx.rotate(Math.PI / 2);
      ctx.fillStyle = s.color;
      ctx.fillText(AXIS_TITLES[i], 0, 0);
      ctx.restore();
    });
    ctx.fillStyle = "#000";
    ctx.font = "bold 23.5px " + FONT;
    SERIES.forEach((s, i) => {
      ctx.fillText(SERIES_TITLES[i], xs.getPixelForValue(s.tT), yg.getPixelForValue(s.tK));
    });
    ctx.strokeStyle = "#222";
    for (let i = 0; i <= 110; i++) {
      const v = i * 0.2;
      const x = Math.round(xs.getPixelForValue(v)) + 0.5;
      const major = i % 5 === 0;
      ctx.lineWidth = major ? 2 : 1.5;
      ctx.beginPath();
      ctx.moveTo(x, area.bottom);
      ctx.lineTo(x, area.bottom + (major ? 13 : 9));
      ctx.stroke();
    }
    ctx.fillStyle = "#000";
    ctx.font = "bold 21px " + FONT;
    ctx.textAlign = "left";
    ctx.textBaseline = "middle";
    X_LABELS.forEach((lab, i) => {
      ctx.save();
      ctx.translate(xs.getPixelForValue(i) + 1, area.bottom + 19);
      ctx.rotate(Math.PI / 2);
      ctx.fillText(lab, 0, 0);
      ctx.restore();
    });
    ctx.font = "bold 23.5px " + FONT;
    ctx.textAlign = "center";
    ctx.fillText(X_TITLE, (area.left + area.right) / 2, area.bottom + 75);
    ctx.restore();
  },
};

export default function App() {
  const ref = useRef<HTMLCanvasElement | null>(null);
  useEffect(() => {
    if (!ref.current) return;
    const scales: any = {
      x: {
        type: "linear",
        min: 0,
        max: 22,
        ticks: { stepSize: 0.2, display: false, autoSkip: false },
        grid: {
          drawTicks: false,
          color: (c: any) => {
            const v = c.tick ? c.tick.value : 0;
            if (Math.abs(v) < 1e-6 || Math.abs(v - 22) < 1e-6) return "#9a9a9a";
            return isWhole(v) ? "#b2b2b2" : "#e2e2e2";
          },
          lineWidth: (c: any) => {
            const v = c.tick ? c.tick.value : 0;
            return isWhole(v) ? 2 : 1;
          },
        },
        border: { display: true, color: "#7a7a7a", width: 2 },
        afterFit: (s: any) => { s.height = 0; },
      },
      yGrid: {
        type: "linear",
        position: "left",
        min: 0,
        max: 20,
        reverse: true,
        ticks: { stepSize: 1, display: false },
        grid: {
          drawTicks: false,
          color: (c: any) => {
            const v = c.tick ? c.tick.value : 0;
            return v === 0 || v === 20 ? "#9a9a9a" : "#bdbdbd";
          },
          lineWidth: 2,
        },
        border: { display: false },
        afterFit: (s: any) => { s.width = 0; },
      },
    };
    SERIES.forEach((s) => {
      scales[s.id] = { type: "linear", display: false, min: s.center - 20, max: s.center };
    });
    const chart = new Chart(ref.current, {
      type: "line",
      data: {
        datasets: SERIES.map((s) => ({
          data: s.data.map(([x, y]) => ({ x, y })),
          yAxisID: s.id,
          xAxisID: "x",
          borderColor: s.color,
          borderWidth: 2.3,
          pointRadius: 0,
          cubicInterpolationMode: "monotone" as const,
          fill: false,
          borderJoinStyle: "round" as const,
          borderCapStyle: "round" as const,
        })),
      },
      options: {
        animation: false,
        responsive: false,
        devicePixelRatio: 1,
        parsing: false,
        events: [],
        layout: { padding: { left: 96, right: 80, top: 6, bottom: 91 } },
        plugins: { legend: { display: false }, tooltip: { enabled: false }, title: { display: false } },
        scales,
      },
      plugins: [overlay],
    } as any);
    return () => chart.destroy();
  }, []);
  return (
    <div style={{ position: "absolute", left: 0, top: 0, width: 1644, height: 1167, background: "#fff" }}>
      <canvas ref={ref} width={1644} height={1167} style={{ display: "block" }} />
    </div>
  );
}
